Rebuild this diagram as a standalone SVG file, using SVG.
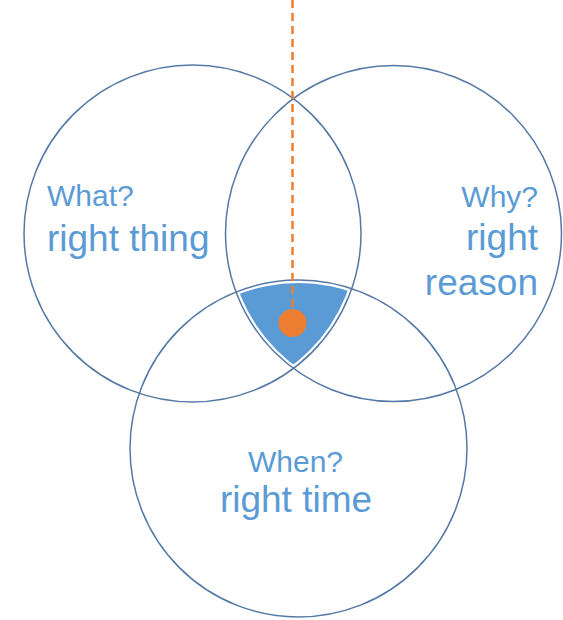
<svg xmlns="http://www.w3.org/2000/svg" width="563" height="620" viewBox="0 0 563 620">
  <style>
    .ring { fill: none; stroke: #5479A6; stroke-width: 1.5; }
    .lbl { font-family: "Liberation Sans", Arial, sans-serif; fill: #5B9BD5; }
    .sm { font-size: 30px; }
    .bg { font-size: 37px; }
    .dash { stroke: #ED7D31; stroke-width: 2.5; stroke-dasharray: 8 5; fill: none; }
  </style>
  <defs>
    <clipPath id="clipL"><circle cx="192.5" cy="233.5" r="165.5"/></clipPath>
    <clipPath id="clipR"><circle cx="393.5" cy="233.5" r="165"/></clipPath>
  </defs>
  <rect width="563" height="620" fill="#FFFFFF"/>
  <g id="overlap">
    <g clip-path="url(#clipL)">
      <g clip-path="url(#clipR)">
        <circle cx="298.5" cy="448.5" r="165.5" fill="#5B9BD5"/>
      </g>
    </g>
  </g>
  <g id="what">
    <circle class="ring" cx="192.5" cy="233.5" r="168.5"/>
    <text class="lbl sm" x="47" y="206">What?</text>
    <text class="lbl bg" x="47" y="251">right thing</text>
  </g>
  <g id="why">
    <circle class="ring" cx="393.5" cy="233.5" r="168"/>
    <text class="lbl sm" x="538" y="207" text-anchor="end">Why?</text>
    <text class="lbl bg" x="538" y="250" text-anchor="end">right</text>
    <text class="lbl bg" x="538" y="295" text-anchor="end">reason</text>
  </g>
  <g id="when">
    <circle class="ring" cx="298.5" cy="448.5" r="168.5"/>
    <text class="lbl sm" x="295.5" y="472" text-anchor="middle">When?</text>
    <text class="lbl bg" x="296" y="512" text-anchor="middle">right time</text>
  </g>
  <g id="connectors">
    <line class="dash" x1="292.5" y1="0" x2="292.5" y2="318"/>
  </g>
  <g id="target">
    <circle cx="292.5" cy="323" r="14" fill="#ED7D31"/>
  </g>
</svg>
